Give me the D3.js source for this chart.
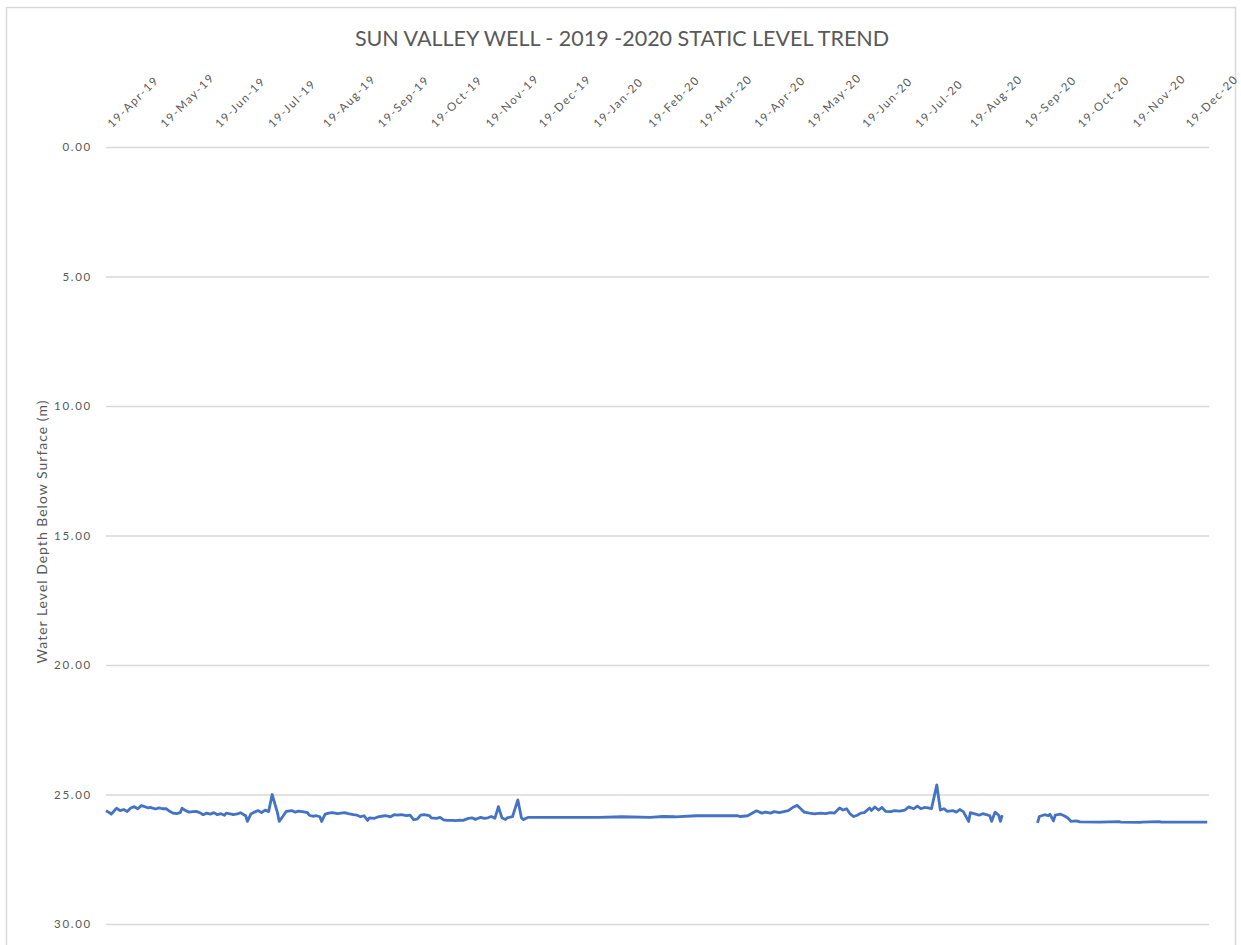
<!DOCTYPE html>
<html>
<head>
<meta charset="utf-8">
<script src="https://cdn.jsdelivr.net/npm/d3@7"></script>
<style>
  html, body { margin: 0; padding: 0; background: #fff; }
  svg { display: block; }
</style>
</head>
<body>
<svg id="chart" width="1241" height="945"></svg>
<script>
const chartTitle = "SUN VALLEY WELL - 2019 -2020 STATIC LEVEL TREND";
const yAxisTitle = "Water Level Depth Below Surface (m)";
const yTicks = [0, 5, 10, 15, 20, 25, 30];
const xTickDates = ["2019-04-19","2019-05-19","2019-06-19","2019-07-19","2019-08-19","2019-09-19",
  "2019-10-19","2019-11-19","2019-12-19","2020-01-19","2020-02-19","2020-03-19","2020-04-19",
  "2020-05-19","2020-06-19","2020-07-19","2020-08-19","2020-09-19","2020-10-19","2020-11-19","2020-12-19"];
const xDomain = ["2019-04-19", "2021-01-02"];

const dates = [
"2019-04-19","2019-04-21","2019-04-22","2019-04-24","2019-04-25","2019-04-27","2019-04-29","2019-05-01",
"2019-05-03","2019-05-05","2019-05-07","2019-05-09","2019-05-10","2019-05-13","2019-05-14","2019-05-17",
"2019-05-19","2019-05-21","2019-05-23","2019-05-25","2019-05-27","2019-05-29","2019-05-31","2019-06-01",
"2019-06-03","2019-06-05","2019-06-07","2019-06-09","2019-06-11","2019-06-13","2019-06-15","2019-06-17",
"2019-06-19","2019-06-21","2019-06-23","2019-06-25","2019-06-26","2019-06-29","2019-06-30","2019-07-03",
"2019-07-04","2019-07-07","2019-07-08","2019-07-10","2019-07-12","2019-07-14","2019-07-16","2019-07-18",
"2019-07-20","2019-07-22","2019-07-25","2019-07-26","2019-07-28","2019-07-30","2019-08-02","2019-08-04",
"2019-08-06","2019-08-08","2019-08-11","2019-08-12","2019-08-14","2019-08-16","2019-08-18","2019-08-19",
"2019-08-21","2019-08-23","2019-08-25","2019-08-28","2019-08-30","2019-09-01","2019-09-03","2019-09-06",
"2019-09-08","2019-09-10","2019-09-12","2019-09-14","2019-09-15","2019-09-18","2019-09-20","2019-09-22",
"2019-09-24","2019-09-27","2019-09-29","2019-10-01","2019-10-03","2019-10-06","2019-10-08","2019-10-10",
"2019-10-12","2019-10-14","2019-10-16","2019-10-19","2019-10-20","2019-10-23","2019-10-25","2019-10-27",
"2019-10-29","2019-11-01","2019-11-03","2019-11-05","2019-11-07","2019-11-10","2019-11-12","2019-11-14",
"2019-11-17","2019-11-19","2019-11-21","2019-11-23","2019-11-25","2019-11-27","2019-11-29","2019-12-01",
"2019-12-02","2019-12-05","2019-12-08","2019-12-10","2019-12-11","2019-12-14","2019-12-31","2020-01-23",
"2020-02-05","2020-02-21","2020-02-28","2020-03-06","2020-03-18","2020-04-10","2020-04-12","2020-04-16",
"2020-04-21","2020-04-24","2020-04-26","2020-04-29","2020-05-01","2020-05-04","2020-05-07","2020-05-09",
"2020-05-12","2020-05-14","2020-05-16","2020-05-18","2020-05-21","2020-05-24","2020-05-27","2020-05-30",
"2020-06-02","2020-06-04","2020-06-07","2020-06-09","2020-06-11","2020-06-13","2020-06-15","2020-06-17",
"2020-06-19","2020-06-21","2020-06-24","2020-06-25","2020-06-27","2020-06-29","2020-07-01","2020-07-03",
"2020-07-06","2020-07-08","2020-07-11","2020-07-14","2020-07-16","2020-07-19","2020-07-21","2020-07-23",
"2020-07-25","2020-07-27","2020-07-29","2020-08-01","2020-08-03","2020-08-05","2020-08-07","2020-08-10",
"2020-08-12","2020-08-14","2020-08-16","2020-08-19","2020-08-20","2020-08-23","2020-08-25","2020-08-27",
"2020-08-29","2020-08-31","2020-09-01","2020-09-03","2020-09-05","2020-09-06","2020-09-07","2020-09-17",
"2020-09-27","2020-09-28","2020-10-01","2020-10-03","2020-10-04","2020-10-06","2020-10-07","2020-10-10",
"2020-10-12","2020-10-14","2020-10-16","2020-10-19","2020-10-21","2020-11-01","2020-11-12","2020-11-13",
"2020-11-24","2020-11-25","2020-12-05","2020-12-06","2021-01-01"
];

const depths = [
25.63,25.70,25.76,25.60,25.53,25.62,25.58,25.66,
25.52,25.47,25.55,25.43,25.45,25.52,25.50,25.56,
25.52,25.55,25.55,25.65,25.72,25.74,25.70,25.53,
25.62,25.68,25.66,25.65,25.70,25.78,25.72,25.76,
25.70,25.78,25.74,25.80,25.72,25.76,25.78,25.74,
25.70,25.82,26.04,25.75,25.68,25.62,25.70,25.60,
25.66,25.00,25.70,26.04,25.85,25.65,25.62,25.68,
25.64,25.66,25.70,25.80,25.84,25.82,25.86,26.04,
25.76,25.72,25.70,25.74,25.72,25.70,25.74,25.78,
25.80,25.86,25.82,26.00,25.90,25.92,25.86,25.84,
25.82,25.86,25.78,25.80,25.78,25.82,25.80,25.97,
25.95,25.80,25.78,25.82,25.90,25.92,25.88,25.98,
26.00,26.00,26.01,25.99,26.00,25.92,25.90,25.96,
25.88,25.92,25.90,25.85,25.92,25.47,25.90,25.97,
25.90,25.85,25.21,25.90,25.97,25.88,25.88,25.88,
25.86,25.88,25.85,25.86,25.82,25.82,25.85,25.82,
25.63,25.72,25.68,25.72,25.66,25.70,25.65,25.62,
25.48,25.42,25.55,25.68,25.72,25.75,25.72,25.74,
25.70,25.72,25.52,25.60,25.55,25.75,25.85,25.80,
25.72,25.70,25.52,25.62,25.48,25.60,25.50,25.65,
25.66,25.62,25.64,25.60,25.48,25.55,25.45,25.55,
25.50,25.52,25.55,24.63,25.60,25.55,25.65,25.62,
25.68,25.58,25.66,26.04,25.70,25.76,25.80,25.74,
25.78,25.82,26.04,25.68,25.80,26.04,25.80,null,
26.10,25.85,25.78,25.82,25.76,26.02,25.80,25.76,
25.82,25.90,26.04,26.02,26.06,26.07,26.05,26.07,
26.08,26.07,26.05,26.07,26.07
];

const parse = d3.timeParse("%Y-%m-%d");
const fmt = d3.timeFormat("%d-%b-%y");
const data = dates.map((d, i) => ({ date: parse(d), v: depths[i] }));

const svg = d3.select("#chart");
const plotL = 106, plotR = 1209, plotT = 147, plotB = 924;
const textColor = "#595959";
const font = "Lato, 'Open Sans', sans-serif";

// chart border
svg.append("rect")
  .attr("x", 6.5).attr("y", 7.5)
  .attr("width", 1229).attr("height", 960)
  .attr("fill", "#fff").attr("stroke", "#d9d9d9").attr("stroke-width", 1.5);

const x = d3.scaleTime().domain(xDomain.map(parse)).range([plotL, plotR]);
const y = d3.scaleLinear().domain([0, 30]).range([plotT, plotB]);

// y axis with gridlines
const yAxis = svg.append("g")
  .attr("transform", `translate(${plotL},0)`)
  .call(d3.axisLeft(y).tickValues(yTicks).tickFormat(d3.format(".2f"))
    .tickSize(-(plotR - plotL)).tickPadding(14));
yAxis.select(".domain").remove();
yAxis.selectAll(".tick line").attr("stroke", "#d9d9d9").attr("stroke-width", 1.3);
yAxis.selectAll(".tick text")
  .attr("fill", textColor).attr("font-family", font).attr("font-size", 11.5)
  .attr("letter-spacing", 1.7);

// x axis at top, rotated labels
const xAxis = svg.append("g")
  .attr("transform", `translate(0,134)`)
  .call(d3.axisTop(x).tickValues(xTickDates.map(parse)).tickFormat(fmt)
    .tickSize(0).tickPadding(0));
xAxis.select(".domain").remove();
xAxis.selectAll(".tick text")
  .attr("x", 8).attr("y", 0).attr("dy", 0)
  .attr("text-anchor", "start")
  .attr("transform", "rotate(-45)")
  .attr("fill", textColor).attr("font-family", font).attr("font-size", 11.5)
  .attr("letter-spacing", 1.5);

// line
const line = d3.line()
  .defined(d => d.v !== null)
  .x(d => x(d.date))
  .y(d => y(d.v));
svg.append("path")
  .datum(data)
  .attr("d", line)
  .attr("fill", "none")
  .attr("stroke", "#4472C4")
  .attr("stroke-width", 2.8)
  .attr("stroke-linejoin", "round");

// title
svg.append("text")
  .attr("x", 622).attr("y", 46)
  .attr("text-anchor", "middle")
  .attr("fill", textColor).attr("font-family", font).attr("font-size", 21.5)
  .text(chartTitle);

// y axis title
svg.append("text")
  .attr("transform", `translate(47,531.5) rotate(-90)`)
  .attr("text-anchor", "middle")
  .attr("fill", textColor).attr("font-family", font).attr("font-size", 14)
  .attr("letter-spacing", 1.0)
  .text(yAxisTitle);
</script>
</body>
</html>
